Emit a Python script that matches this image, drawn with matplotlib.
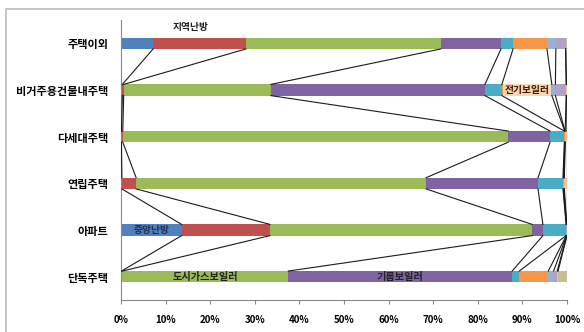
import matplotlib
matplotlib.use("Agg")
import matplotlib.pyplot as plt
from matplotlib.patches import Rectangle
import numpy as np

plt.rcParams["font.family"] = ["Noto Sans CJK KR", "DejaVu Sans"]

# housing types, top to bottom
CATEGORIES = ["주택이외", "비거주용건물내주택", "다세대주택", "연립주택", "아파트", "단독주택"]

# heating type shares (%) per housing type, same order as CATEGORIES
DISTRICT = [7.2, 0.3, 0.1, 0.2, 13.6, 0.1]
CENTRAL = [20.8, 0.3, 0.3, 3.2, 19.8, 0.2]
CITY_GAS = [43.7, 33.0, 86.4, 65.0, 58.8, 37.2]
OIL = [13.5, 48.0, 9.4, 25.1, 2.4, 50.2]
LPG = [2.7, 3.8, 3.2, 5.6, 5.2, 1.6]
ELECTRIC = [7.6, 11.2, 0.1, 0.1, 0.05, 6.5]
BRIQUETTE = [2.0, 0.8, 0.05, 0.1, 0.05, 1.2]
WOOD = [2.2, 2.4, 0.05, 0.1, 0.05, 0.8]
OTHER = [0.0, 0.1, 0.4, 0.6, 0.05, 0.2]
NONE = [0.3, 0.1, 0.0, 0.0, 0.0, 2.0]

SERIES = [DISTRICT, CENTRAL, CITY_GAS, OIL, LPG, ELECTRIC, BRIQUETTE, WOOD, OTHER, NONE]
COLORS = ["#4F81BD", "#C0504D", "#9BBB59", "#8064A2", "#4BACC6",
          "#F79646", "#95B3D7", "#B2A1C7", "#FAC090", "#C4BD97"]

XTICKS = [0, 10, 20, 30, 40, 50, 60, 70, 80, 90, 100]

fig = plt.figure(figsize=(5.84, 3.32), dpi=100)
ax = fig.add_axes([121 / 584, 1 - 300 / 332, 446 / 584, 280 / 332])

y = np.arange(len(CATEGORIES))
h = 0.24
data = np.array(SERIES, dtype=float)
cum = np.cumsum(data, axis=0)
left = np.vstack([np.zeros(len(CATEGORIES)), cum[:-1]])

for vals, lefts, c in zip(data, left, COLORS):
    ax.barh(y, vals, left=lefts, height=h, color=c, edgecolor="none", zorder=2)

# excel-style series lines between neighbouring bars
for ends in cum:
    for k in range(len(CATEGORIES) - 1):
        ax.plot([ends[k], ends[k + 1]], [y[k] + h / 2, y[k + 1] - h / 2],
                color="#1a1a1a", lw=0.8, zorder=3)

# data labels
ax.text(left[1][0] + data[1][0] / 2 - 2, -0.34, "지역난방", ha="center", va="center",
        fontsize=7, fontweight="bold", color="#222222")
ax.text(left[5][1] + data[5][1] / 2, y[1], "전기보일러", ha="center", va="center",
        fontsize=7, fontweight="bold", color="#3a1a00",
        bbox=dict(boxstyle="square,pad=0.15", fc="#FBD5B5", ec="none"), zorder=4)
ax.text(data[0][4] / 2, y[4], "중앙난방", ha="center", va="center",
        fontsize=7, fontweight="bold", color="#1f2f4f", zorder=4)
ax.text(left[2][5] + data[2][5] / 2, y[5], "도시가스보일러", ha="center", va="center",
        fontsize=7.3, fontweight="bold", color="#222222", zorder=4)
ax.text(left[3][5] + data[3][5] / 2, y[5], "기름보일러", ha="center", va="center",
        fontsize=7.3, fontweight="bold", color="#222222", zorder=4)

ax.set_xlim(0, 100)
ax.set_ylim(len(CATEGORIES) - 0.5, -0.5)
ax.set_yticks(y)
ax.set_yticklabels(CATEGORIES, fontsize=8, fontweight="bold")
ax.set_xticks(XTICKS)
ax.set_xticklabels([f"{v}%" for v in XTICKS], fontsize=7, fontweight="bold")
ax.tick_params(axis="y", length=0, pad=9)
ax.tick_params(axis="x", length=3, color="#888888", pad=8)
for s in ("top", "right"):
    ax.spines[s].set_visible(False)
for s in ("left", "bottom"):
    ax.spines[s].set_color("#888888")
    ax.spines[s].set_linewidth(0.8)

# chart area border (cropped at right/bottom in the reference)
fig.patches.append(Rectangle((6 / 584, -0.05), 1.1, 1 - 9 / 332 + 0.05,
                             transform=fig.transFigure, fill=False,
                             ec="#bbbbbb", lw=1.2))

fig.savefig("out.png", dpi=100)
